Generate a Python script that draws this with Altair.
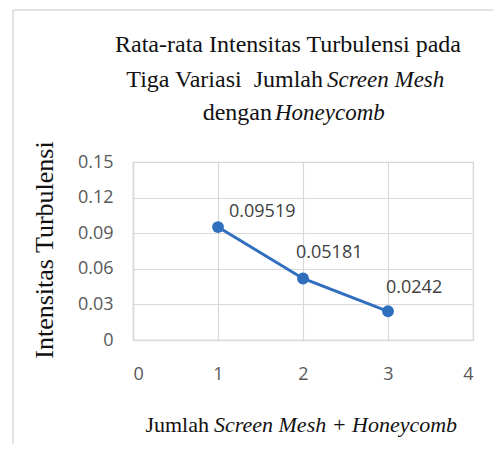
import altair as alt
import pandas as pd

# ---- data ----
x_vals = [1, 2, 3]
y_vals = [0.09519, 0.05181, 0.0242]
point_labels = ["0.09519", "0.05181", "0.0242"]
x_ticks = [0, 1, 2, 3, 4]
y_ticks = [0, 0.03, 0.06, 0.09, 0.12, 0.15]

title_line1 = "Rata-rata Intensitas Turbulensi pada"
title_line2a = "Tiga Variasi\u00a0 Jumlah"
title_line2b = "Screen Mesh"
title_line3a = "dengan"
title_line3b = "Honeycomb"
x_title_a = "Jumlah"
x_title_b = "Screen Mesh + Honeycomb"
y_title = "Intensitas Turbulensi"

df = pd.DataFrame({"x": x_vals, "y": y_vals, "label": point_labels})

BLUE = "#2f6fbd"
GRID = "#d9d9d9"
SERIF = "Liberation Serif"
SANS = "Open Sans"

x_enc = alt.X("x:Q", scale=alt.Scale(domain=[0, 4], nice=False),
              axis=alt.Axis(values=x_ticks, title=None, format="d"))
y_enc = alt.Y("y:Q", scale=alt.Scale(domain=[0, 0.15], nice=False),
              axis=alt.Axis(values=y_ticks, title=None,
                            labelExpr="datum.value == 0 ? '0' : format(datum.value, '.2f')"))

base = alt.Chart(df)
line = base.mark_line(color=BLUE, strokeWidth=3).encode(x=x_enc, y=y_enc)
pts = base.mark_point(filled=True, color=BLUE, size=140, opacity=1).encode(x=x_enc, y=y_enc)

offsets = {1: (11, -15), 2: (-7, -26), 3: (-2, -23)}
label_layers = []
for xv, (dx, dy) in offsets.items():
    label_layers.append(
        base.transform_filter(alt.datum.x == xv)
        .mark_text(align="left", baseline="middle", dx=dx, dy=dy,
                   font=SANS, fontSize=18, color="#404040")
        .encode(x=x_enc, y=y_enc, text="label:N")
    )

one = alt.Data(values=[{"a": 1}])

def txt(s, x, y, align, italic=False, size=24, angle=None, font=SERIF):
    kw = dict(align=align, baseline="middle", font=font, fontSize=size,
              color="#111111", fontStyle="italic" if italic else "normal")
    if angle is not None:
        kw["angle"] = angle
    return alt.Chart(one).mark_text(**kw).encode(
        x=alt.value(x), y=alt.value(y), text=alt.value(s))

titles = [
    txt(title_line1, 155, -117, "center"),
    txt(title_line2a, 190, -82, "right"),
    txt(title_line2b, 194, -82, "left", italic=True, size=23),
    txt(title_line3a, 139, -49, "right"),
    txt(title_line3b, 142, -49, "left", italic=True, size=23),
    txt(x_title_a, 76, 263, "right", size=22),
    txt(x_title_b, 81, 263, "left", italic=True, size=22),
    txt(y_title, -88, 88, "center", size=26, angle=270),
]

frame_v = alt.Chart(one).mark_rule(color=GRID, strokeWidth=1.5).encode(
    x=alt.value(-120), y=alt.value(-152), y2=alt.value(290))
frame_h = alt.Chart(one).mark_rule(color=GRID, strokeWidth=1.5).encode(
    x=alt.value(-120), x2=alt.value(400), y=alt.value(-152))

chart = alt.layer(frame_v, frame_h, line, pts, *label_layers, *titles).properties(
    width=340, height=178,
    autosize=alt.AutoSizeParams(type="none"),
    padding={"left": 125, "top": 154, "right": 20, "bottom": 104},
    background="white",
).configure_axis(
    grid=True, gridColor=GRID, gridWidth=1.2,
    domainColor=GRID, domainWidth=1.5, ticks=False,
    labelFont=SANS, labelFontSize=18, labelColor="#595959",
).configure_axisX(labelPadding=25).configure_axisY(labelPadding=20).configure_view(
    stroke=GRID, strokeWidth=1.2
)

chart.save("out.html", embed_options={"renderer": "svg", "actions": False})
